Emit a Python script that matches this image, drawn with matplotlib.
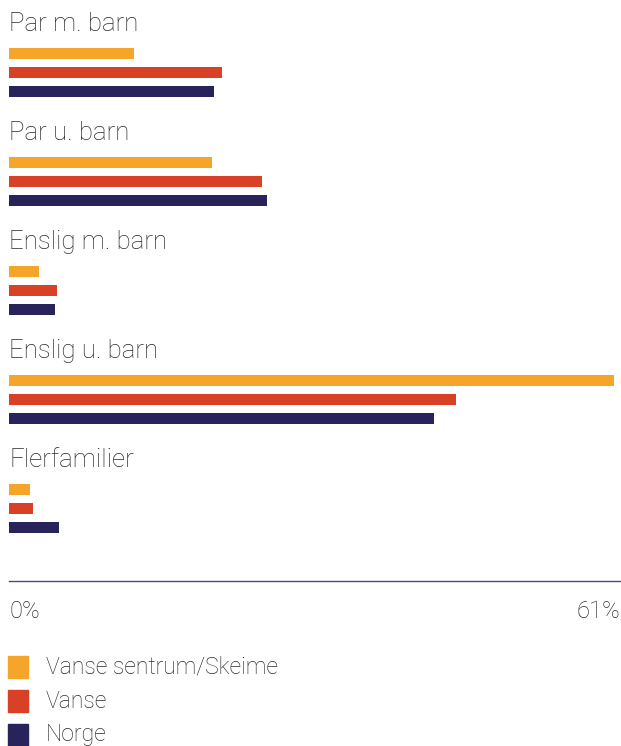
import matplotlib
matplotlib.use("Agg")
import matplotlib.pyplot as plt
from matplotlib.patches import Rectangle

categories = ["Par m. barn", "Par u. barn", "Enslig m. barn", "Enslig u. barn", "Flerfamilier"]
series_names = ["Vanse sentrum/Skeime", "Vanse", "Norge"]
vanse_sentrum = [12.5, 20.2, 3.0, 60.4, 2.1]
vanse = [21.2, 25.2, 4.8, 44.6, 2.4]
norge = [20.4, 25.7, 4.6, 42.4, 5.0]
x_max = 61
tick_labels = ["0%", "61%"]

colors = ["#F5A52A", "#D94126", "#29235C"]
text_color = "#2a2a2a"
plt.rcParams['font.family'] = ['Roboto', 'DejaVu Sans']

W, H = 621, 746
fig = plt.figure(figsize=(W / 100, H / 100), dpi=100)

# axes in pixel units vertically, percent horizontally
x0, x1 = 9.3, 620
ax = fig.add_axes([x0 / W, 0, (x1 - x0) / W, 1])
ax.set_xlim(0, x_max)
ax.set_ylim(H, 0)
ax.axis('off')

pitch = 109      # group spacing
bar_gap = 19     # spacing between bars in a group
bar_h = 11

all_series = [vanse_sentrum, vanse, norge]
for i, cat in enumerate(categories):
    top = 24 + pitch * i
    ax.text(0, top, cat, fontsize=18.6, fontweight='light', color=text_color,
            va='center', ha='left')
    for j, vals in enumerate(all_series):
        ax.barh(top + 29.5 + bar_gap * j, vals[i], height=bar_h,
                color=colors[j], left=0)

# axis line and tick labels
ax.plot([0, x_max], [581, 581], color="#4B4A86", lw=1.0, clip_on=False)
ax.text(0, 612, tick_labels[0], fontsize=17, fontweight='light', color=text_color,
        va='center', ha='left')
ax.text(x_max, 612, tick_labels[1], fontsize=17, fontweight='light', color=text_color,
        va='center', ha='right')

# legend
for j, name in enumerate(series_names):
    yc = 667 + 34 * j
    fig.patches.append(Rectangle((8 / W, 1 - (yc + 11) / H), 20 / W, 22 / H,
                                 transform=fig.transFigure, color=colors[j]))
    fig.text(46 / W, 1 - yc / H, name, fontsize=16.6, fontweight='light',
             color=text_color, va='center', ha='left')

fig.savefig("out.png", dpi=100)
